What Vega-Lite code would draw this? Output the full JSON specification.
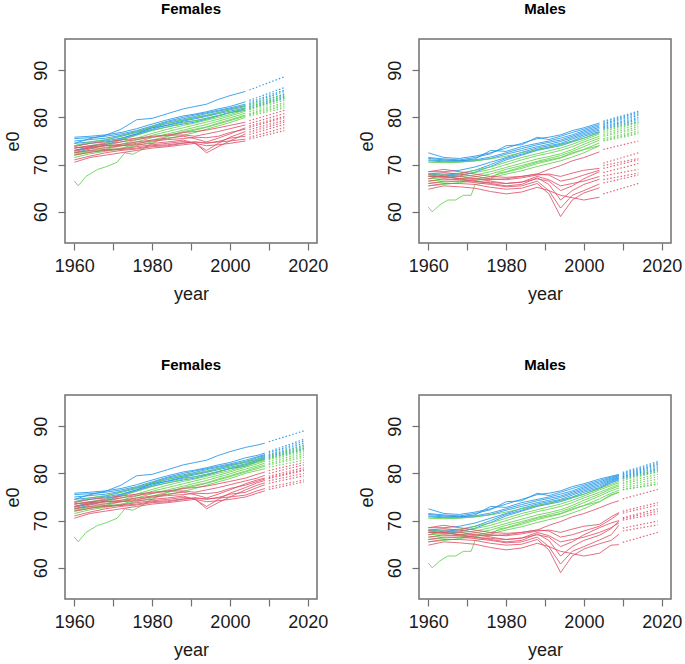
{
"$schema": "https://vega.github.io/schema/vega-lite/v6.json",
"padding": {"left": 3, "top": 1, "right": 0, "bottom": 0},
"bounds": "flush",
"spacing": {"row": 152, "column": 102},
"columns": 2,
"config": {
 "font": "Liberation Sans",
 "view": {"stroke": "#707070", "strokeWidth": 1.5},
 "axis": {"domain": false, "grid": false, "tickColor": "#707070", "tickSize": 7, "tickWidth": 1.2, "labelFontSize": 18, "labelColor": "#1a1a1a", "titleFontSize": 18, "titleFontWeight": "normal", "titleColor": "#1a1a1a", "labelFont": "Liberation Sans", "titleFont": "Liberation Sans"},
 "axisX": {"labelPadding": 7, "titleX": 126, "titleY": 56, "titleBaseline": "alphabetic", "labelFlush": false, "labelOverlap": false},
 "axisY": {"labelAngle": -90, "labelAlign": "center", "labelBaseline": "bottom", "labelPadding": 8, "titleAngle": -90, "titleX": -47, "titleY": 102, "titleBaseline": "alphabetic", "titleAlign": "center"},
 "title": {"fontSize": 15, "fontWeight": "bold", "font": "Liberation Sans", "color": "#000000", "offset": 22, "baseline": "bottom", "frame": "group", "anchor": "middle"}
},
"datasets": {
"hist": [
{"s":"F","id":"Fb1","g":"b","year":1960,"e0":74.5},{"s":"F","id":"Fb1","g":"b","year":1964,"e0":75.5},{"s":"F","id":"Fb1","g":"b","year":1968,"e0":76.2},{"s":"F","id":"Fb1","g":"b","year":1972,"e0":77.5},{"s":"F","id":"Fb1","g":"b","year":1976,"e0":79.5},{"s":"F","id":"Fb1","g":"b","year":1980,"e0":79.8},{"s":"F","id":"Fb1","g":"b","year":1984,"e0":80.8},{"s":"F","id":"Fb1","g":"b","year":1988,"e0":81.8},{"s":"F","id":"Fb1","g":"b","year":1991,"e0":82.3},{"s":"F","id":"Fb1","g":"b","year":1994,"e0":82.8},{"s":"F","id":"Fb1","g":"b","year":1997,"e0":83.8},{"s":"F","id":"Fb1","g":"b","year":2000,"e0":84.6},{"s":"F","id":"Fb1","g":"b","year":2004,"e0":85.5},{"s":"F","id":"Fb1","g":"b","year":2007,"e0":86.0},{"s":"F","id":"Fb1","g":"b","year":2009,"e0":86.4},
{"s":"F","id":"Fb2","g":"b","year":1960,"e0":75.8},{"s":"F","id":"Fb2","g":"b","year":1964,"e0":76.0},{"s":"F","id":"Fb2","g":"b","year":1968,"e0":76.3},{"s":"F","id":"Fb2","g":"b","year":1972,"e0":76.8},{"s":"F","id":"Fb2","g":"b","year":1976,"e0":77.6},{"s":"F","id":"Fb2","g":"b","year":1980,"e0":78.6},{"s":"F","id":"Fb2","g":"b","year":1984,"e0":79.5},{"s":"F","id":"Fb2","g":"b","year":1988,"e0":80.3},{"s":"F","id":"Fb2","g":"b","year":1991,"e0":80.7},{"s":"F","id":"Fb2","g":"b","year":1994,"e0":81.2},{"s":"F","id":"Fb2","g":"b","year":1997,"e0":81.8},{"s":"F","id":"Fb2","g":"b","year":2000,"e0":82.3},{"s":"F","id":"Fb2","g":"b","year":2004,"e0":83.3},{"s":"F","id":"Fb2","g":"b","year":2007,"e0":83.8},{"s":"F","id":"Fb2","g":"b","year":2009,"e0":84.3},
{"s":"F","id":"Fb3","g":"b","year":1960,"e0":75.5},{"s":"F","id":"Fb3","g":"b","year":1964,"e0":75.7},{"s":"F","id":"Fb3","g":"b","year":1968,"e0":76.0},{"s":"F","id":"Fb3","g":"b","year":1972,"e0":76.5},{"s":"F","id":"Fb3","g":"b","year":1976,"e0":77.2},{"s":"F","id":"Fb3","g":"b","year":1980,"e0":78.2},{"s":"F","id":"Fb3","g":"b","year":1984,"e0":79.2},{"s":"F","id":"Fb3","g":"b","year":1988,"e0":80.0},{"s":"F","id":"Fb3","g":"b","year":1991,"e0":80.5},{"s":"F","id":"Fb3","g":"b","year":1994,"e0":81.0},{"s":"F","id":"Fb3","g":"b","year":1997,"e0":81.5},{"s":"F","id":"Fb3","g":"b","year":2000,"e0":82.0},{"s":"F","id":"Fb3","g":"b","year":2004,"e0":82.8},{"s":"F","id":"Fb3","g":"b","year":2007,"e0":83.5},{"s":"F","id":"Fb3","g":"b","year":2009,"e0":84.0},
{"s":"F","id":"Fb4","g":"b","year":1960,"e0":75.0},{"s":"F","id":"Fb4","g":"b","year":1964,"e0":75.3},{"s":"F","id":"Fb4","g":"b","year":1968,"e0":75.6},{"s":"F","id":"Fb4","g":"b","year":1972,"e0":76.2},{"s":"F","id":"Fb4","g":"b","year":1976,"e0":77.0},{"s":"F","id":"Fb4","g":"b","year":1980,"e0":78.0},{"s":"F","id":"Fb4","g":"b","year":1984,"e0":79.0},{"s":"F","id":"Fb4","g":"b","year":1988,"e0":79.7},{"s":"F","id":"Fb4","g":"b","year":1991,"e0":80.2},{"s":"F","id":"Fb4","g":"b","year":1994,"e0":80.8},{"s":"F","id":"Fb4","g":"b","year":1997,"e0":81.3},{"s":"F","id":"Fb4","g":"b","year":2000,"e0":81.8},{"s":"F","id":"Fb4","g":"b","year":2004,"e0":82.5},{"s":"F","id":"Fb4","g":"b","year":2007,"e0":83.3},{"s":"F","id":"Fb4","g":"b","year":2009,"e0":83.8},
{"s":"F","id":"Fb5","g":"b","year":1960,"e0":74.5},{"s":"F","id":"Fb5","g":"b","year":1964,"e0":74.8},{"s":"F","id":"Fb5","g":"b","year":1968,"e0":75.2},{"s":"F","id":"Fb5","g":"b","year":1972,"e0":76.0},{"s":"F","id":"Fb5","g":"b","year":1976,"e0":76.8},{"s":"F","id":"Fb5","g":"b","year":1980,"e0":77.8},{"s":"F","id":"Fb5","g":"b","year":1984,"e0":78.7},{"s":"F","id":"Fb5","g":"b","year":1988,"e0":79.4},{"s":"F","id":"Fb5","g":"b","year":1991,"e0":79.9},{"s":"F","id":"Fb5","g":"b","year":1994,"e0":80.4},{"s":"F","id":"Fb5","g":"b","year":1997,"e0":81.0},{"s":"F","id":"Fb5","g":"b","year":2000,"e0":81.6},{"s":"F","id":"Fb5","g":"b","year":2004,"e0":82.3},{"s":"F","id":"Fb5","g":"b","year":2007,"e0":83.0},{"s":"F","id":"Fb5","g":"b","year":2009,"e0":83.6},
{"s":"F","id":"Fb6","g":"b","year":1960,"e0":74.0},{"s":"F","id":"Fb6","g":"b","year":1964,"e0":74.5},{"s":"F","id":"Fb6","g":"b","year":1968,"e0":75.0},{"s":"F","id":"Fb6","g":"b","year":1972,"e0":75.6},{"s":"F","id":"Fb6","g":"b","year":1976,"e0":76.5},{"s":"F","id":"Fb6","g":"b","year":1980,"e0":77.5},{"s":"F","id":"Fb6","g":"b","year":1984,"e0":78.4},{"s":"F","id":"Fb6","g":"b","year":1988,"e0":79.2},{"s":"F","id":"Fb6","g":"b","year":1991,"e0":79.7},{"s":"F","id":"Fb6","g":"b","year":1994,"e0":80.2},{"s":"F","id":"Fb6","g":"b","year":1997,"e0":80.8},{"s":"F","id":"Fb6","g":"b","year":2000,"e0":81.3},{"s":"F","id":"Fb6","g":"b","year":2004,"e0":82.0},{"s":"F","id":"Fb6","g":"b","year":2007,"e0":82.8},{"s":"F","id":"Fb6","g":"b","year":2009,"e0":83.4},
{"s":"F","id":"Fb7","g":"b","year":1960,"e0":73.0},{"s":"F","id":"Fb7","g":"b","year":1964,"e0":73.8},{"s":"F","id":"Fb7","g":"b","year":1968,"e0":74.5},{"s":"F","id":"Fb7","g":"b","year":1972,"e0":75.5},{"s":"F","id":"Fb7","g":"b","year":1976,"e0":76.5},{"s":"F","id":"Fb7","g":"b","year":1980,"e0":77.8},{"s":"F","id":"Fb7","g":"b","year":1984,"e0":78.3},{"s":"F","id":"Fb7","g":"b","year":1988,"e0":79.0},{"s":"F","id":"Fb7","g":"b","year":1991,"e0":79.3},{"s":"F","id":"Fb7","g":"b","year":1994,"e0":79.8},{"s":"F","id":"Fb7","g":"b","year":1997,"e0":80.4},{"s":"F","id":"Fb7","g":"b","year":2000,"e0":81.0},{"s":"F","id":"Fb7","g":"b","year":2004,"e0":81.8},{"s":"F","id":"Fb7","g":"b","year":2007,"e0":82.6},{"s":"F","id":"Fb7","g":"b","year":2009,"e0":83.2},
{"s":"F","id":"Fb8","g":"b","year":1960,"e0":72.5},{"s":"F","id":"Fb8","g":"b","year":1964,"e0":73.3},{"s":"F","id":"Fb8","g":"b","year":1968,"e0":74.2},{"s":"F","id":"Fb8","g":"b","year":1972,"e0":75.2},{"s":"F","id":"Fb8","g":"b","year":1976,"e0":76.3},{"s":"F","id":"Fb8","g":"b","year":1980,"e0":77.3},{"s":"F","id":"Fb8","g":"b","year":1984,"e0":78.0},{"s":"F","id":"Fb8","g":"b","year":1988,"e0":78.6},{"s":"F","id":"Fb8","g":"b","year":1991,"e0":79.0},{"s":"F","id":"Fb8","g":"b","year":1994,"e0":79.6},{"s":"F","id":"Fb8","g":"b","year":1997,"e0":80.3},{"s":"F","id":"Fb8","g":"b","year":2000,"e0":81.0},{"s":"F","id":"Fb8","g":"b","year":2004,"e0":81.5},{"s":"F","id":"Fb8","g":"b","year":2007,"e0":82.5},{"s":"F","id":"Fb8","g":"b","year":2009,"e0":83.0},
{"s":"F","id":"Fg1","g":"g","year":1960,"e0":66.5},{"s":"F","id":"Fg1","g":"g","year":1961,"e0":65.5},{"s":"F","id":"Fg1","g":"g","year":1963,"e0":67.5},{"s":"F","id":"Fg1","g":"g","year":1966,"e0":69.0},{"s":"F","id":"Fg1","g":"g","year":1968,"e0":69.5},{"s":"F","id":"Fg1","g":"g","year":1971,"e0":70.5},{"s":"F","id":"Fg1","g":"g","year":1973,"e0":72.5},{"s":"F","id":"Fg1","g":"g","year":1975,"e0":72.2},{"s":"F","id":"Fg1","g":"g","year":1977,"e0":73.0},{"s":"F","id":"Fg1","g":"g","year":1980,"e0":74.5},{"s":"F","id":"Fg1","g":"g","year":1984,"e0":76.0},{"s":"F","id":"Fg1","g":"g","year":1988,"e0":77.0},{"s":"F","id":"Fg1","g":"g","year":1991,"e0":77.5},{"s":"F","id":"Fg1","g":"g","year":1994,"e0":78.0},{"s":"F","id":"Fg1","g":"g","year":1997,"e0":78.8},{"s":"F","id":"Fg1","g":"g","year":2000,"e0":79.5},{"s":"F","id":"Fg1","g":"g","year":2004,"e0":80.5},{"s":"F","id":"Fg1","g":"g","year":2007,"e0":81.3},{"s":"F","id":"Fg1","g":"g","year":2009,"e0":81.8},
{"s":"F","id":"Fg2","g":"g","year":1960,"e0":74.0},{"s":"F","id":"Fg2","g":"g","year":1964,"e0":74.8},{"s":"F","id":"Fg2","g":"g","year":1968,"e0":75.3},{"s":"F","id":"Fg2","g":"g","year":1972,"e0":76.0},{"s":"F","id":"Fg2","g":"g","year":1976,"e0":77.0},{"s":"F","id":"Fg2","g":"g","year":1980,"e0":78.0},{"s":"F","id":"Fg2","g":"g","year":1984,"e0":78.8},{"s":"F","id":"Fg2","g":"g","year":1988,"e0":79.5},{"s":"F","id":"Fg2","g":"g","year":1991,"e0":80.0},{"s":"F","id":"Fg2","g":"g","year":1994,"e0":80.5},{"s":"F","id":"Fg2","g":"g","year":1997,"e0":81.0},{"s":"F","id":"Fg2","g":"g","year":2000,"e0":81.6},{"s":"F","id":"Fg2","g":"g","year":2004,"e0":82.5},{"s":"F","id":"Fg2","g":"g","year":2007,"e0":83.0},{"s":"F","id":"Fg2","g":"g","year":2009,"e0":83.5},
{"s":"F","id":"Fg3","g":"g","year":1960,"e0":73.5},{"s":"F","id":"Fg3","g":"g","year":1964,"e0":74.0},{"s":"F","id":"Fg3","g":"g","year":1968,"e0":74.6},{"s":"F","id":"Fg3","g":"g","year":1972,"e0":75.3},{"s":"F","id":"Fg3","g":"g","year":1976,"e0":76.2},{"s":"F","id":"Fg3","g":"g","year":1980,"e0":77.2},{"s":"F","id":"Fg3","g":"g","year":1984,"e0":78.0},{"s":"F","id":"Fg3","g":"g","year":1988,"e0":78.8},{"s":"F","id":"Fg3","g":"g","year":1991,"e0":79.3},{"s":"F","id":"Fg3","g":"g","year":1994,"e0":79.8},{"s":"F","id":"Fg3","g":"g","year":1997,"e0":80.4},{"s":"F","id":"Fg3","g":"g","year":2000,"e0":81.0},{"s":"F","id":"Fg3","g":"g","year":2004,"e0":82.0},{"s":"F","id":"Fg3","g":"g","year":2007,"e0":82.6},{"s":"F","id":"Fg3","g":"g","year":2009,"e0":83.0},
{"s":"F","id":"Fg4","g":"g","year":1960,"e0":73.0},{"s":"F","id":"Fg4","g":"g","year":1964,"e0":73.5},{"s":"F","id":"Fg4","g":"g","year":1968,"e0":74.0},{"s":"F","id":"Fg4","g":"g","year":1972,"e0":74.8},{"s":"F","id":"Fg4","g":"g","year":1976,"e0":75.6},{"s":"F","id":"Fg4","g":"g","year":1980,"e0":76.6},{"s":"F","id":"Fg4","g":"g","year":1984,"e0":77.5},{"s":"F","id":"Fg4","g":"g","year":1988,"e0":78.3},{"s":"F","id":"Fg4","g":"g","year":1991,"e0":78.8},{"s":"F","id":"Fg4","g":"g","year":1994,"e0":79.4},{"s":"F","id":"Fg4","g":"g","year":1997,"e0":80.0},{"s":"F","id":"Fg4","g":"g","year":2000,"e0":80.6},{"s":"F","id":"Fg4","g":"g","year":2004,"e0":81.6},{"s":"F","id":"Fg4","g":"g","year":2007,"e0":82.3},{"s":"F","id":"Fg4","g":"g","year":2009,"e0":82.8},
{"s":"F","id":"Fg5","g":"g","year":1960,"e0":72.5},{"s":"F","id":"Fg5","g":"g","year":1964,"e0":73.0},{"s":"F","id":"Fg5","g":"g","year":1968,"e0":73.6},{"s":"F","id":"Fg5","g":"g","year":1972,"e0":74.3},{"s":"F","id":"Fg5","g":"g","year":1976,"e0":75.2},{"s":"F","id":"Fg5","g":"g","year":1980,"e0":76.2},{"s":"F","id":"Fg5","g":"g","year":1984,"e0":77.0},{"s":"F","id":"Fg5","g":"g","year":1988,"e0":77.8},{"s":"F","id":"Fg5","g":"g","year":1991,"e0":78.4},{"s":"F","id":"Fg5","g":"g","year":1994,"e0":79.0},{"s":"F","id":"Fg5","g":"g","year":1997,"e0":79.6},{"s":"F","id":"Fg5","g":"g","year":2000,"e0":80.3},{"s":"F","id":"Fg5","g":"g","year":2004,"e0":81.3},{"s":"F","id":"Fg5","g":"g","year":2007,"e0":82.0},{"s":"F","id":"Fg5","g":"g","year":2009,"e0":82.6},
{"s":"F","id":"Fg6","g":"g","year":1960,"e0":72.0},{"s":"F","id":"Fg6","g":"g","year":1964,"e0":72.6},{"s":"F","id":"Fg6","g":"g","year":1968,"e0":73.2},{"s":"F","id":"Fg6","g":"g","year":1972,"e0":74.0},{"s":"F","id":"Fg6","g":"g","year":1976,"e0":74.8},{"s":"F","id":"Fg6","g":"g","year":1980,"e0":75.7},{"s":"F","id":"Fg6","g":"g","year":1984,"e0":76.5},{"s":"F","id":"Fg6","g":"g","year":1988,"e0":77.3},{"s":"F","id":"Fg6","g":"g","year":1991,"e0":77.9},{"s":"F","id":"Fg6","g":"g","year":1994,"e0":78.5},{"s":"F","id":"Fg6","g":"g","year":1997,"e0":79.2},{"s":"F","id":"Fg6","g":"g","year":2000,"e0":79.9},{"s":"F","id":"Fg6","g":"g","year":2004,"e0":80.9},{"s":"F","id":"Fg6","g":"g","year":2007,"e0":81.6},{"s":"F","id":"Fg6","g":"g","year":2009,"e0":82.2},
{"s":"F","id":"Fg7","g":"g","year":1960,"e0":72.2},{"s":"F","id":"Fg7","g":"g","year":1964,"e0":72.8},{"s":"F","id":"Fg7","g":"g","year":1968,"e0":73.0},{"s":"F","id":"Fg7","g":"g","year":1972,"e0":73.5},{"s":"F","id":"Fg7","g":"g","year":1976,"e0":74.3},{"s":"F","id":"Fg7","g":"g","year":1980,"e0":75.2},{"s":"F","id":"Fg7","g":"g","year":1984,"e0":76.0},{"s":"F","id":"Fg7","g":"g","year":1988,"e0":76.8},{"s":"F","id":"Fg7","g":"g","year":1991,"e0":77.3},{"s":"F","id":"Fg7","g":"g","year":1994,"e0":77.9},{"s":"F","id":"Fg7","g":"g","year":1997,"e0":78.6},{"s":"F","id":"Fg7","g":"g","year":2000,"e0":79.3},{"s":"F","id":"Fg7","g":"g","year":2004,"e0":80.3},{"s":"F","id":"Fg7","g":"g","year":2007,"e0":81.0},{"s":"F","id":"Fg7","g":"g","year":2009,"e0":81.5},
{"s":"F","id":"Fg8","g":"g","year":1960,"e0":71.5},{"s":"F","id":"Fg8","g":"g","year":1964,"e0":72.3},{"s":"F","id":"Fg8","g":"g","year":1968,"e0":72.8},{"s":"F","id":"Fg8","g":"g","year":1972,"e0":73.4},{"s":"F","id":"Fg8","g":"g","year":1976,"e0":74.0},{"s":"F","id":"Fg8","g":"g","year":1980,"e0":74.8},{"s":"F","id":"Fg8","g":"g","year":1984,"e0":75.5},{"s":"F","id":"Fg8","g":"g","year":1988,"e0":76.2},{"s":"F","id":"Fg8","g":"g","year":1991,"e0":76.8},{"s":"F","id":"Fg8","g":"g","year":1994,"e0":77.5},{"s":"F","id":"Fg8","g":"g","year":1997,"e0":78.2},{"s":"F","id":"Fg8","g":"g","year":2000,"e0":78.9},{"s":"F","id":"Fg8","g":"g","year":2004,"e0":80.0},{"s":"F","id":"Fg8","g":"g","year":2007,"e0":80.6},{"s":"F","id":"Fg8","g":"g","year":2009,"e0":81.0},
{"s":"F","id":"Fr1","g":"r","year":1960,"e0":73.8},{"s":"F","id":"Fr1","g":"r","year":1964,"e0":74.5},{"s":"F","id":"Fr1","g":"r","year":1968,"e0":74.8},{"s":"F","id":"Fr1","g":"r","year":1972,"e0":75.2},{"s":"F","id":"Fr1","g":"r","year":1976,"e0":75.6},{"s":"F","id":"Fr1","g":"r","year":1980,"e0":76.0},{"s":"F","id":"Fr1","g":"r","year":1984,"e0":76.3},{"s":"F","id":"Fr1","g":"r","year":1988,"e0":76.8},{"s":"F","id":"Fr1","g":"r","year":1991,"e0":77.0},{"s":"F","id":"Fr1","g":"r","year":1994,"e0":77.3},{"s":"F","id":"Fr1","g":"r","year":1997,"e0":77.8},{"s":"F","id":"Fr1","g":"r","year":2000,"e0":78.3},{"s":"F","id":"Fr1","g":"r","year":2004,"e0":79.0},{"s":"F","id":"Fr1","g":"r","year":2007,"e0":79.8},{"s":"F","id":"Fr1","g":"r","year":2009,"e0":80.3},
{"s":"F","id":"Fr2","g":"r","year":1960,"e0":73.5},{"s":"F","id":"Fr2","g":"r","year":1964,"e0":74.0},{"s":"F","id":"Fr2","g":"r","year":1968,"e0":74.3},{"s":"F","id":"Fr2","g":"r","year":1972,"e0":74.8},{"s":"F","id":"Fr2","g":"r","year":1976,"e0":75.3},{"s":"F","id":"Fr2","g":"r","year":1980,"e0":75.8},{"s":"F","id":"Fr2","g":"r","year":1984,"e0":76.2},{"s":"F","id":"Fr2","g":"r","year":1988,"e0":76.3},{"s":"F","id":"Fr2","g":"r","year":1991,"e0":76.0},{"s":"F","id":"Fr2","g":"r","year":1994,"e0":76.5},{"s":"F","id":"Fr2","g":"r","year":1997,"e0":77.0},{"s":"F","id":"Fr2","g":"r","year":2000,"e0":77.6},{"s":"F","id":"Fr2","g":"r","year":2004,"e0":78.4},{"s":"F","id":"Fr2","g":"r","year":2007,"e0":79.0},{"s":"F","id":"Fr2","g":"r","year":2009,"e0":79.6},
{"s":"F","id":"Fr3","g":"r","year":1960,"e0":73.0},{"s":"F","id":"Fr3","g":"r","year":1964,"e0":73.6},{"s":"F","id":"Fr3","g":"r","year":1968,"e0":74.0},{"s":"F","id":"Fr3","g":"r","year":1972,"e0":74.3},{"s":"F","id":"Fr3","g":"r","year":1976,"e0":74.8},{"s":"F","id":"Fr3","g":"r","year":1980,"e0":75.2},{"s":"F","id":"Fr3","g":"r","year":1984,"e0":75.6},{"s":"F","id":"Fr3","g":"r","year":1988,"e0":76.0},{"s":"F","id":"Fr3","g":"r","year":1991,"e0":75.5},{"s":"F","id":"Fr3","g":"r","year":1994,"e0":74.8},{"s":"F","id":"Fr3","g":"r","year":1997,"e0":75.6},{"s":"F","id":"Fr3","g":"r","year":2000,"e0":76.5},{"s":"F","id":"Fr3","g":"r","year":2004,"e0":77.8},{"s":"F","id":"Fr3","g":"r","year":2007,"e0":78.6},{"s":"F","id":"Fr3","g":"r","year":2009,"e0":79.0},
{"s":"F","id":"Fr4","g":"r","year":1960,"e0":73.5},{"s":"F","id":"Fr4","g":"r","year":1964,"e0":73.8},{"s":"F","id":"Fr4","g":"r","year":1968,"e0":74.0},{"s":"F","id":"Fr4","g":"r","year":1972,"e0":74.0},{"s":"F","id":"Fr4","g":"r","year":1976,"e0":74.2},{"s":"F","id":"Fr4","g":"r","year":1980,"e0":74.5},{"s":"F","id":"Fr4","g":"r","year":1984,"e0":74.8},{"s":"F","id":"Fr4","g":"r","year":1988,"e0":75.2},{"s":"F","id":"Fr4","g":"r","year":1991,"e0":74.5},{"s":"F","id":"Fr4","g":"r","year":1994,"e0":73.0},{"s":"F","id":"Fr4","g":"r","year":1997,"e0":74.5},{"s":"F","id":"Fr4","g":"r","year":2000,"e0":75.8},{"s":"F","id":"Fr4","g":"r","year":2004,"e0":77.0},{"s":"F","id":"Fr4","g":"r","year":2007,"e0":78.0},{"s":"F","id":"Fr4","g":"r","year":2009,"e0":78.5},
{"s":"F","id":"Fr5","g":"r","year":1960,"e0":72.5},{"s":"F","id":"Fr5","g":"r","year":1964,"e0":73.0},{"s":"F","id":"Fr5","g":"r","year":1968,"e0":73.2},{"s":"F","id":"Fr5","g":"r","year":1972,"e0":73.3},{"s":"F","id":"Fr5","g":"r","year":1976,"e0":73.8},{"s":"F","id":"Fr5","g":"r","year":1980,"e0":74.2},{"s":"F","id":"Fr5","g":"r","year":1984,"e0":74.5},{"s":"F","id":"Fr5","g":"r","year":1988,"e0":74.9},{"s":"F","id":"Fr5","g":"r","year":1991,"e0":74.6},{"s":"F","id":"Fr5","g":"r","year":1994,"e0":72.5},{"s":"F","id":"Fr5","g":"r","year":1997,"e0":73.8},{"s":"F","id":"Fr5","g":"r","year":2000,"e0":75.0},{"s":"F","id":"Fr5","g":"r","year":2004,"e0":76.5},{"s":"F","id":"Fr5","g":"r","year":2007,"e0":77.5},{"s":"F","id":"Fr5","g":"r","year":2009,"e0":78.0},
{"s":"F","id":"Fr6","g":"r","year":1960,"e0":72.0},{"s":"F","id":"Fr6","g":"r","year":1964,"e0":72.6},{"s":"F","id":"Fr6","g":"r","year":1968,"e0":73.0},{"s":"F","id":"Fr6","g":"r","year":1972,"e0":73.2},{"s":"F","id":"Fr6","g":"r","year":1976,"e0":73.5},{"s":"F","id":"Fr6","g":"r","year":1980,"e0":74.0},{"s":"F","id":"Fr6","g":"r","year":1984,"e0":74.2},{"s":"F","id":"Fr6","g":"r","year":1988,"e0":74.6},{"s":"F","id":"Fr6","g":"r","year":1991,"e0":74.8},{"s":"F","id":"Fr6","g":"r","year":1994,"e0":74.5},{"s":"F","id":"Fr6","g":"r","year":1997,"e0":74.9},{"s":"F","id":"Fr6","g":"r","year":2000,"e0":75.6},{"s":"F","id":"Fr6","g":"r","year":2004,"e0":76.0},{"s":"F","id":"Fr6","g":"r","year":2007,"e0":77.0},{"s":"F","id":"Fr6","g":"r","year":2009,"e0":77.6},
{"s":"F","id":"Fr7","g":"r","year":1960,"e0":71.0},{"s":"F","id":"Fr7","g":"r","year":1964,"e0":71.8},{"s":"F","id":"Fr7","g":"r","year":1968,"e0":72.5},{"s":"F","id":"Fr7","g":"r","year":1972,"e0":73.0},{"s":"F","id":"Fr7","g":"r","year":1976,"e0":73.3},{"s":"F","id":"Fr7","g":"r","year":1980,"e0":73.8},{"s":"F","id":"Fr7","g":"r","year":1984,"e0":74.0},{"s":"F","id":"Fr7","g":"r","year":1988,"e0":74.5},{"s":"F","id":"Fr7","g":"r","year":1991,"e0":74.8},{"s":"F","id":"Fr7","g":"r","year":1994,"e0":74.6},{"s":"F","id":"Fr7","g":"r","year":1997,"e0":74.8},{"s":"F","id":"Fr7","g":"r","year":2000,"e0":75.0},{"s":"F","id":"Fr7","g":"r","year":2004,"e0":75.4},{"s":"F","id":"Fr7","g":"r","year":2007,"e0":76.3},{"s":"F","id":"Fr7","g":"r","year":2009,"e0":76.8},
{"s":"F","id":"Fr8","g":"r","year":1960,"e0":70.5},{"s":"F","id":"Fr8","g":"r","year":1964,"e0":71.5},{"s":"F","id":"Fr8","g":"r","year":1968,"e0":72.0},{"s":"F","id":"Fr8","g":"r","year":1972,"e0":72.5},{"s":"F","id":"Fr8","g":"r","year":1976,"e0":73.0},{"s":"F","id":"Fr8","g":"r","year":1980,"e0":73.5},{"s":"F","id":"Fr8","g":"r","year":1984,"e0":73.8},{"s":"F","id":"Fr8","g":"r","year":1988,"e0":74.2},{"s":"F","id":"Fr8","g":"r","year":1991,"e0":74.5},{"s":"F","id":"Fr8","g":"r","year":1994,"e0":74.0},{"s":"F","id":"Fr8","g":"r","year":1997,"e0":74.2},{"s":"F","id":"Fr8","g":"r","year":2000,"e0":74.5},{"s":"F","id":"Fr8","g":"r","year":2004,"e0":75.0},{"s":"F","id":"Fr8","g":"r","year":2007,"e0":75.8},{"s":"F","id":"Fr8","g":"r","year":2009,"e0":76.3},
{"s":"F","id":"Fr9","g":"r","year":1960,"e0":72.8},{"s":"F","id":"Fr9","g":"r","year":1964,"e0":73.5},{"s":"F","id":"Fr9","g":"r","year":1968,"e0":73.5},{"s":"F","id":"Fr9","g":"r","year":1972,"e0":74.0},{"s":"F","id":"Fr9","g":"r","year":1976,"e0":74.5},{"s":"F","id":"Fr9","g":"r","year":1980,"e0":75.0},{"s":"F","id":"Fr9","g":"r","year":1984,"e0":75.3},{"s":"F","id":"Fr9","g":"r","year":1988,"e0":75.5},{"s":"F","id":"Fr9","g":"r","year":1991,"e0":75.8},{"s":"F","id":"Fr9","g":"r","year":1994,"e0":75.7},{"s":"F","id":"Fr9","g":"r","year":1997,"e0":76.0},{"s":"F","id":"Fr9","g":"r","year":2000,"e0":76.8},{"s":"F","id":"Fr9","g":"r","year":2004,"e0":77.5},{"s":"F","id":"Fr9","g":"r","year":2007,"e0":78.3},{"s":"F","id":"Fr9","g":"r","year":2009,"e0":78.8},
{"s":"M","id":"Mb1","g":"b","year":1960,"e0":72.5},{"s":"M","id":"Mb1","g":"b","year":1964,"e0":71.5},{"s":"M","id":"Mb1","g":"b","year":1968,"e0":71.3},{"s":"M","id":"Mb1","g":"b","year":1972,"e0":71.8},{"s":"M","id":"Mb1","g":"b","year":1976,"e0":72.5},{"s":"M","id":"Mb1","g":"b","year":1980,"e0":73.5},{"s":"M","id":"Mb1","g":"b","year":1984,"e0":74.5},{"s":"M","id":"Mb1","g":"b","year":1988,"e0":75.5},{"s":"M","id":"Mb1","g":"b","year":1991,"e0":75.8},{"s":"M","id":"Mb1","g":"b","year":1994,"e0":76.3},{"s":"M","id":"Mb1","g":"b","year":1997,"e0":77.2},{"s":"M","id":"Mb1","g":"b","year":2000,"e0":77.8},{"s":"M","id":"Mb1","g":"b","year":2004,"e0":78.8},{"s":"M","id":"Mb1","g":"b","year":2007,"e0":79.4},{"s":"M","id":"Mb1","g":"b","year":2009,"e0":79.8},
{"s":"M","id":"Mb2","g":"b","year":1960,"e0":71.5},{"s":"M","id":"Mb2","g":"b","year":1964,"e0":71.2},{"s":"M","id":"Mb2","g":"b","year":1968,"e0":71.0},{"s":"M","id":"Mb2","g":"b","year":1972,"e0":71.5},{"s":"M","id":"Mb2","g":"b","year":1976,"e0":72.3},{"s":"M","id":"Mb2","g":"b","year":1980,"e0":74.0},{"s":"M","id":"Mb2","g":"b","year":1984,"e0":74.2},{"s":"M","id":"Mb2","g":"b","year":1988,"e0":75.8},{"s":"M","id":"Mb2","g":"b","year":1991,"e0":75.3},{"s":"M","id":"Mb2","g":"b","year":1994,"e0":76.0},{"s":"M","id":"Mb2","g":"b","year":1997,"e0":76.8},{"s":"M","id":"Mb2","g":"b","year":2000,"e0":77.5},{"s":"M","id":"Mb2","g":"b","year":2004,"e0":78.5},{"s":"M","id":"Mb2","g":"b","year":2007,"e0":79.2},{"s":"M","id":"Mb2","g":"b","year":2009,"e0":79.6},
{"s":"M","id":"Mb3","g":"b","year":1960,"e0":71.3},{"s":"M","id":"Mb3","g":"b","year":1964,"e0":71.0},{"s":"M","id":"Mb3","g":"b","year":1968,"e0":70.8},{"s":"M","id":"Mb3","g":"b","year":1972,"e0":71.2},{"s":"M","id":"Mb3","g":"b","year":1976,"e0":73.0},{"s":"M","id":"Mb3","g":"b","year":1980,"e0":72.8},{"s":"M","id":"Mb3","g":"b","year":1984,"e0":73.8},{"s":"M","id":"Mb3","g":"b","year":1988,"e0":74.5},{"s":"M","id":"Mb3","g":"b","year":1991,"e0":75.0},{"s":"M","id":"Mb3","g":"b","year":1994,"e0":75.6},{"s":"M","id":"Mb3","g":"b","year":1997,"e0":76.3},{"s":"M","id":"Mb3","g":"b","year":2000,"e0":77.2},{"s":"M","id":"Mb3","g":"b","year":2004,"e0":78.2},{"s":"M","id":"Mb3","g":"b","year":2007,"e0":79.0},{"s":"M","id":"Mb3","g":"b","year":2009,"e0":79.5},
{"s":"M","id":"Mb4","g":"b","year":1960,"e0":71.0},{"s":"M","id":"Mb4","g":"b","year":1964,"e0":70.8},{"s":"M","id":"Mb4","g":"b","year":1968,"e0":70.8},{"s":"M","id":"Mb4","g":"b","year":1972,"e0":71.0},{"s":"M","id":"Mb4","g":"b","year":1976,"e0":71.6},{"s":"M","id":"Mb4","g":"b","year":1980,"e0":72.5},{"s":"M","id":"Mb4","g":"b","year":1984,"e0":73.4},{"s":"M","id":"Mb4","g":"b","year":1988,"e0":74.2},{"s":"M","id":"Mb4","g":"b","year":1991,"e0":74.7},{"s":"M","id":"Mb4","g":"b","year":1994,"e0":75.2},{"s":"M","id":"Mb4","g":"b","year":1997,"e0":76.0},{"s":"M","id":"Mb4","g":"b","year":2000,"e0":76.9},{"s":"M","id":"Mb4","g":"b","year":2004,"e0":77.9},{"s":"M","id":"Mb4","g":"b","year":2007,"e0":78.8},{"s":"M","id":"Mb4","g":"b","year":2009,"e0":79.3},
{"s":"M","id":"Mb5","g":"b","year":1960,"e0":70.8},{"s":"M","id":"Mb5","g":"b","year":1964,"e0":70.6},{"s":"M","id":"Mb5","g":"b","year":1968,"e0":70.6},{"s":"M","id":"Mb5","g":"b","year":1972,"e0":70.8},{"s":"M","id":"Mb5","g":"b","year":1976,"e0":71.3},{"s":"M","id":"Mb5","g":"b","year":1980,"e0":72.2},{"s":"M","id":"Mb5","g":"b","year":1984,"e0":73.0},{"s":"M","id":"Mb5","g":"b","year":1988,"e0":73.8},{"s":"M","id":"Mb5","g":"b","year":1991,"e0":74.3},{"s":"M","id":"Mb5","g":"b","year":1994,"e0":74.9},{"s":"M","id":"Mb5","g":"b","year":1997,"e0":75.7},{"s":"M","id":"Mb5","g":"b","year":2000,"e0":76.6},{"s":"M","id":"Mb5","g":"b","year":2004,"e0":77.6},{"s":"M","id":"Mb5","g":"b","year":2007,"e0":78.6},{"s":"M","id":"Mb5","g":"b","year":2009,"e0":79.1},
{"s":"M","id":"Mb6","g":"b","year":1960,"e0":68.5},{"s":"M","id":"Mb6","g":"b","year":1964,"e0":68.5},{"s":"M","id":"Mb6","g":"b","year":1968,"e0":68.8},{"s":"M","id":"Mb6","g":"b","year":1972,"e0":69.5},{"s":"M","id":"Mb6","g":"b","year":1976,"e0":70.5},{"s":"M","id":"Mb6","g":"b","year":1980,"e0":71.5},{"s":"M","id":"Mb6","g":"b","year":1984,"e0":72.6},{"s":"M","id":"Mb6","g":"b","year":1988,"e0":73.5},{"s":"M","id":"Mb6","g":"b","year":1991,"e0":74.0},{"s":"M","id":"Mb6","g":"b","year":1994,"e0":74.5},{"s":"M","id":"Mb6","g":"b","year":1997,"e0":75.4},{"s":"M","id":"Mb6","g":"b","year":2000,"e0":76.3},{"s":"M","id":"Mb6","g":"b","year":2004,"e0":77.3},{"s":"M","id":"Mb6","g":"b","year":2007,"e0":78.4},{"s":"M","id":"Mb6","g":"b","year":2009,"e0":79.0},
{"s":"M","id":"Mb7","g":"b","year":1960,"e0":68.0},{"s":"M","id":"Mb7","g":"b","year":1964,"e0":67.8},{"s":"M","id":"Mb7","g":"b","year":1968,"e0":68.0},{"s":"M","id":"Mb7","g":"b","year":1972,"e0":68.8},{"s":"M","id":"Mb7","g":"b","year":1976,"e0":70.0},{"s":"M","id":"Mb7","g":"b","year":1980,"e0":71.3},{"s":"M","id":"Mb7","g":"b","year":1984,"e0":72.2},{"s":"M","id":"Mb7","g":"b","year":1988,"e0":73.2},{"s":"M","id":"Mb7","g":"b","year":1991,"e0":73.7},{"s":"M","id":"Mb7","g":"b","year":1994,"e0":74.3},{"s":"M","id":"Mb7","g":"b","year":1997,"e0":75.0},{"s":"M","id":"Mb7","g":"b","year":2000,"e0":76.0},{"s":"M","id":"Mb7","g":"b","year":2004,"e0":77.0},{"s":"M","id":"Mb7","g":"b","year":2007,"e0":78.2},{"s":"M","id":"Mb7","g":"b","year":2009,"e0":78.8},
{"s":"M","id":"Mb8","g":"b","year":1960,"e0":67.5},{"s":"M","id":"Mb8","g":"b","year":1964,"e0":67.3},{"s":"M","id":"Mb8","g":"b","year":1968,"e0":67.6},{"s":"M","id":"Mb8","g":"b","year":1972,"e0":68.4},{"s":"M","id":"Mb8","g":"b","year":1976,"e0":69.6},{"s":"M","id":"Mb8","g":"b","year":1980,"e0":71.0},{"s":"M","id":"Mb8","g":"b","year":1984,"e0":72.0},{"s":"M","id":"Mb8","g":"b","year":1988,"e0":73.0},{"s":"M","id":"Mb8","g":"b","year":1991,"e0":73.5},{"s":"M","id":"Mb8","g":"b","year":1994,"e0":74.0},{"s":"M","id":"Mb8","g":"b","year":1997,"e0":74.8},{"s":"M","id":"Mb8","g":"b","year":2000,"e0":75.6},{"s":"M","id":"Mb8","g":"b","year":2004,"e0":76.8},{"s":"M","id":"Mb8","g":"b","year":2007,"e0":78.0},{"s":"M","id":"Mb8","g":"b","year":2009,"e0":78.6},
{"s":"M","id":"Mg1","g":"g","year":1960,"e0":61.0},{"s":"M","id":"Mg1","g":"g","year":1961,"e0":60.0},{"s":"M","id":"Mg1","g":"g","year":1963,"e0":61.5},{"s":"M","id":"Mg1","g":"g","year":1965,"e0":62.5},{"s":"M","id":"Mg1","g":"g","year":1967,"e0":62.5},{"s":"M","id":"Mg1","g":"g","year":1969,"e0":63.5},{"s":"M","id":"Mg1","g":"g","year":1971,"e0":63.5},{"s":"M","id":"Mg1","g":"g","year":1972,"e0":65.8},{"s":"M","id":"Mg1","g":"g","year":1975,"e0":66.2},{"s":"M","id":"Mg1","g":"g","year":1978,"e0":68.2},{"s":"M","id":"Mg1","g":"g","year":1980,"e0":68.5},{"s":"M","id":"Mg1","g":"g","year":1984,"e0":69.5},{"s":"M","id":"Mg1","g":"g","year":1988,"e0":70.5},{"s":"M","id":"Mg1","g":"g","year":1991,"e0":71.0},{"s":"M","id":"Mg1","g":"g","year":1994,"e0":71.5},{"s":"M","id":"Mg1","g":"g","year":1997,"e0":72.5},{"s":"M","id":"Mg1","g":"g","year":2000,"e0":73.2},{"s":"M","id":"Mg1","g":"g","year":2004,"e0":74.0},{"s":"M","id":"Mg1","g":"g","year":2007,"e0":75.5},{"s":"M","id":"Mg1","g":"g","year":2009,"e0":76.0},
{"s":"M","id":"Mg2","g":"g","year":1960,"e0":70.5},{"s":"M","id":"Mg2","g":"g","year":1964,"e0":70.4},{"s":"M","id":"Mg2","g":"g","year":1968,"e0":70.5},{"s":"M","id":"Mg2","g":"g","year":1972,"e0":70.8},{"s":"M","id":"Mg2","g":"g","year":1976,"e0":71.2},{"s":"M","id":"Mg2","g":"g","year":1980,"e0":71.8},{"s":"M","id":"Mg2","g":"g","year":1984,"e0":72.5},{"s":"M","id":"Mg2","g":"g","year":1988,"e0":73.2},{"s":"M","id":"Mg2","g":"g","year":1991,"e0":73.7},{"s":"M","id":"Mg2","g":"g","year":1994,"e0":74.2},{"s":"M","id":"Mg2","g":"g","year":1997,"e0":74.9},{"s":"M","id":"Mg2","g":"g","year":2000,"e0":75.6},{"s":"M","id":"Mg2","g":"g","year":2004,"e0":76.8},{"s":"M","id":"Mg2","g":"g","year":2007,"e0":77.7},{"s":"M","id":"Mg2","g":"g","year":2009,"e0":78.3},
{"s":"M","id":"Mg3","g":"g","year":1960,"e0":68.0},{"s":"M","id":"Mg3","g":"g","year":1964,"e0":68.0},{"s":"M","id":"Mg3","g":"g","year":1968,"e0":68.2},{"s":"M","id":"Mg3","g":"g","year":1972,"e0":68.8},{"s":"M","id":"Mg3","g":"g","year":1976,"e0":69.5},{"s":"M","id":"Mg3","g":"g","year":1980,"e0":70.5},{"s":"M","id":"Mg3","g":"g","year":1984,"e0":71.5},{"s":"M","id":"Mg3","g":"g","year":1988,"e0":72.3},{"s":"M","id":"Mg3","g":"g","year":1991,"e0":72.9},{"s":"M","id":"Mg3","g":"g","year":1994,"e0":73.5},{"s":"M","id":"Mg3","g":"g","year":1997,"e0":74.3},{"s":"M","id":"Mg3","g":"g","year":2000,"e0":75.2},{"s":"M","id":"Mg3","g":"g","year":2004,"e0":76.5},{"s":"M","id":"Mg3","g":"g","year":2007,"e0":77.4},{"s":"M","id":"Mg3","g":"g","year":2009,"e0":78.0},
{"s":"M","id":"Mg4","g":"g","year":1960,"e0":67.5},{"s":"M","id":"Mg4","g":"g","year":1964,"e0":67.5},{"s":"M","id":"Mg4","g":"g","year":1968,"e0":67.8},{"s":"M","id":"Mg4","g":"g","year":1972,"e0":68.3},{"s":"M","id":"Mg4","g":"g","year":1976,"e0":69.0},{"s":"M","id":"Mg4","g":"g","year":1980,"e0":70.0},{"s":"M","id":"Mg4","g":"g","year":1984,"e0":71.0},{"s":"M","id":"Mg4","g":"g","year":1988,"e0":71.9},{"s":"M","id":"Mg4","g":"g","year":1991,"e0":72.4},{"s":"M","id":"Mg4","g":"g","year":1994,"e0":73.0},{"s":"M","id":"Mg4","g":"g","year":1997,"e0":73.8},{"s":"M","id":"Mg4","g":"g","year":2000,"e0":74.8},{"s":"M","id":"Mg4","g":"g","year":2004,"e0":76.0},{"s":"M","id":"Mg4","g":"g","year":2007,"e0":77.0},{"s":"M","id":"Mg4","g":"g","year":2009,"e0":77.6},
{"s":"M","id":"Mg5","g":"g","year":1960,"e0":67.0},{"s":"M","id":"Mg5","g":"g","year":1964,"e0":67.2},{"s":"M","id":"Mg5","g":"g","year":1968,"e0":67.4},{"s":"M","id":"Mg5","g":"g","year":1972,"e0":67.8},{"s":"M","id":"Mg5","g":"g","year":1976,"e0":68.5},{"s":"M","id":"Mg5","g":"g","year":1980,"e0":69.4},{"s":"M","id":"Mg5","g":"g","year":1984,"e0":70.3},{"s":"M","id":"Mg5","g":"g","year":1988,"e0":71.2},{"s":"M","id":"Mg5","g":"g","year":1991,"e0":71.7},{"s":"M","id":"Mg5","g":"g","year":1994,"e0":72.3},{"s":"M","id":"Mg5","g":"g","year":1997,"e0":73.2},{"s":"M","id":"Mg5","g":"g","year":2000,"e0":74.3},{"s":"M","id":"Mg5","g":"g","year":2004,"e0":75.6},{"s":"M","id":"Mg5","g":"g","year":2007,"e0":76.7},{"s":"M","id":"Mg5","g":"g","year":2009,"e0":77.3},
{"s":"M","id":"Mg6","g":"g","year":1960,"e0":66.5},{"s":"M","id":"Mg6","g":"g","year":1964,"e0":66.8},{"s":"M","id":"Mg6","g":"g","year":1968,"e0":67.0},{"s":"M","id":"Mg6","g":"g","year":1972,"e0":67.4},{"s":"M","id":"Mg6","g":"g","year":1976,"e0":68.0},{"s":"M","id":"Mg6","g":"g","year":1980,"e0":69.0},{"s":"M","id":"Mg6","g":"g","year":1984,"e0":69.8},{"s":"M","id":"Mg6","g":"g","year":1988,"e0":70.7},{"s":"M","id":"Mg6","g":"g","year":1991,"e0":71.3},{"s":"M","id":"Mg6","g":"g","year":1994,"e0":71.9},{"s":"M","id":"Mg6","g":"g","year":1997,"e0":72.8},{"s":"M","id":"Mg6","g":"g","year":2000,"e0":73.8},{"s":"M","id":"Mg6","g":"g","year":2004,"e0":75.2},{"s":"M","id":"Mg6","g":"g","year":2007,"e0":76.3},{"s":"M","id":"Mg6","g":"g","year":2009,"e0":76.9},
{"s":"M","id":"Mg7","g":"g","year":1960,"e0":66.0},{"s":"M","id":"Mg7","g":"g","year":1964,"e0":66.3},{"s":"M","id":"Mg7","g":"g","year":1968,"e0":66.5},{"s":"M","id":"Mg7","g":"g","year":1972,"e0":66.9},{"s":"M","id":"Mg7","g":"g","year":1976,"e0":67.5},{"s":"M","id":"Mg7","g":"g","year":1980,"e0":68.4},{"s":"M","id":"Mg7","g":"g","year":1984,"e0":69.2},{"s":"M","id":"Mg7","g":"g","year":1988,"e0":70.2},{"s":"M","id":"Mg7","g":"g","year":1991,"e0":70.8},{"s":"M","id":"Mg7","g":"g","year":1994,"e0":71.4},{"s":"M","id":"Mg7","g":"g","year":1997,"e0":72.3},{"s":"M","id":"Mg7","g":"g","year":2000,"e0":73.2},{"s":"M","id":"Mg7","g":"g","year":2004,"e0":74.6},{"s":"M","id":"Mg7","g":"g","year":2007,"e0":75.8},{"s":"M","id":"Mg7","g":"g","year":2009,"e0":76.4},
{"s":"M","id":"Mg8","g":"g","year":1960,"e0":65.5},{"s":"M","id":"Mg8","g":"g","year":1964,"e0":65.8},{"s":"M","id":"Mg8","g":"g","year":1968,"e0":66.2},{"s":"M","id":"Mg8","g":"g","year":1972,"e0":66.6},{"s":"M","id":"Mg8","g":"g","year":1976,"e0":67.2},{"s":"M","id":"Mg8","g":"g","year":1980,"e0":68.0},{"s":"M","id":"Mg8","g":"g","year":1984,"e0":68.7},{"s":"M","id":"Mg8","g":"g","year":1988,"e0":69.6},{"s":"M","id":"Mg8","g":"g","year":1991,"e0":70.2},{"s":"M","id":"Mg8","g":"g","year":1994,"e0":70.8},{"s":"M","id":"Mg8","g":"g","year":1997,"e0":71.6},{"s":"M","id":"Mg8","g":"g","year":2000,"e0":72.5},{"s":"M","id":"Mg8","g":"g","year":2004,"e0":74.0},{"s":"M","id":"Mg8","g":"g","year":2007,"e0":75.3},{"s":"M","id":"Mg8","g":"g","year":2009,"e0":76.0},
{"s":"M","id":"Mr1","g":"r","year":1960,"e0":67.5},{"s":"M","id":"Mr1","g":"r","year":1964,"e0":67.5},{"s":"M","id":"Mr1","g":"r","year":1968,"e0":67.0},{"s":"M","id":"Mr1","g":"r","year":1972,"e0":67.0},{"s":"M","id":"Mr1","g":"r","year":1976,"e0":66.8},{"s":"M","id":"Mr1","g":"r","year":1980,"e0":67.0},{"s":"M","id":"Mr1","g":"r","year":1984,"e0":67.5},{"s":"M","id":"Mr1","g":"r","year":1988,"e0":68.0},{"s":"M","id":"Mr1","g":"r","year":1991,"e0":69.0},{"s":"M","id":"Mr1","g":"r","year":1994,"e0":69.8},{"s":"M","id":"Mr1","g":"r","year":1997,"e0":70.8},{"s":"M","id":"Mr1","g":"r","year":2000,"e0":71.5},{"s":"M","id":"Mr1","g":"r","year":2004,"e0":72.7},{"s":"M","id":"Mr1","g":"r","year":2007,"e0":73.7},{"s":"M","id":"Mr1","g":"r","year":2009,"e0":74.2},
{"s":"M","id":"Mr2","g":"r","year":1960,"e0":68.0},{"s":"M","id":"Mr2","g":"r","year":1964,"e0":68.3},{"s":"M","id":"Mr2","g":"r","year":1968,"e0":68.0},{"s":"M","id":"Mr2","g":"r","year":1972,"e0":67.5},{"s":"M","id":"Mr2","g":"r","year":1976,"e0":67.0},{"s":"M","id":"Mr2","g":"r","year":1980,"e0":66.8},{"s":"M","id":"Mr2","g":"r","year":1984,"e0":67.2},{"s":"M","id":"Mr2","g":"r","year":1988,"e0":67.8},{"s":"M","id":"Mr2","g":"r","year":1991,"e0":68.0},{"s":"M","id":"Mr2","g":"r","year":1994,"e0":67.5},{"s":"M","id":"Mr2","g":"r","year":1997,"e0":68.2},{"s":"M","id":"Mr2","g":"r","year":2000,"e0":68.8},{"s":"M","id":"Mr2","g":"r","year":2004,"e0":69.2},{"s":"M","id":"Mr2","g":"r","year":2007,"e0":70.8},{"s":"M","id":"Mr2","g":"r","year":2009,"e0":71.7},
{"s":"M","id":"Mr3","g":"r","year":1960,"e0":68.5},{"s":"M","id":"Mr3","g":"r","year":1964,"e0":69.0},{"s":"M","id":"Mr3","g":"r","year":1968,"e0":68.5},{"s":"M","id":"Mr3","g":"r","year":1972,"e0":68.0},{"s":"M","id":"Mr3","g":"r","year":1976,"e0":67.5},{"s":"M","id":"Mr3","g":"r","year":1980,"e0":67.3},{"s":"M","id":"Mr3","g":"r","year":1984,"e0":67.5},{"s":"M","id":"Mr3","g":"r","year":1988,"e0":68.0},{"s":"M","id":"Mr3","g":"r","year":1991,"e0":67.8},{"s":"M","id":"Mr3","g":"r","year":1994,"e0":66.5},{"s":"M","id":"Mr3","g":"r","year":1997,"e0":67.0},{"s":"M","id":"Mr3","g":"r","year":2000,"e0":67.8},{"s":"M","id":"Mr3","g":"r","year":2004,"e0":68.8},{"s":"M","id":"Mr3","g":"r","year":2007,"e0":70.3},{"s":"M","id":"Mr3","g":"r","year":2009,"e0":71.5},
{"s":"M","id":"Mr4","g":"r","year":1960,"e0":66.5},{"s":"M","id":"Mr4","g":"r","year":1964,"e0":67.0},{"s":"M","id":"Mr4","g":"r","year":1968,"e0":66.8},{"s":"M","id":"Mr4","g":"r","year":1972,"e0":66.5},{"s":"M","id":"Mr4","g":"r","year":1976,"e0":66.2},{"s":"M","id":"Mr4","g":"r","year":1980,"e0":66.0},{"s":"M","id":"Mr4","g":"r","year":1984,"e0":66.3},{"s":"M","id":"Mr4","g":"r","year":1988,"e0":67.0},{"s":"M","id":"Mr4","g":"r","year":1991,"e0":66.5},{"s":"M","id":"Mr4","g":"r","year":1994,"e0":64.5},{"s":"M","id":"Mr4","g":"r","year":1997,"e0":65.5},{"s":"M","id":"Mr4","g":"r","year":2000,"e0":67.0},{"s":"M","id":"Mr4","g":"r","year":2004,"e0":68.5},{"s":"M","id":"Mr4","g":"r","year":2007,"e0":69.5},{"s":"M","id":"Mr4","g":"r","year":2009,"e0":70.0},
{"s":"M","id":"Mr5","g":"r","year":1960,"e0":67.8},{"s":"M","id":"Mr5","g":"r","year":1964,"e0":67.5},{"s":"M","id":"Mr5","g":"r","year":1968,"e0":67.0},{"s":"M","id":"Mr5","g":"r","year":1972,"e0":66.5},{"s":"M","id":"Mr5","g":"r","year":1976,"e0":66.0},{"s":"M","id":"Mr5","g":"r","year":1980,"e0":65.5},{"s":"M","id":"Mr5","g":"r","year":1984,"e0":65.8},{"s":"M","id":"Mr5","g":"r","year":1988,"e0":67.2},{"s":"M","id":"Mr5","g":"r","year":1991,"e0":65.8},{"s":"M","id":"Mr5","g":"r","year":1994,"e0":62.5},{"s":"M","id":"Mr5","g":"r","year":1997,"e0":64.5},{"s":"M","id":"Mr5","g":"r","year":2000,"e0":65.8},{"s":"M","id":"Mr5","g":"r","year":2004,"e0":66.9},{"s":"M","id":"Mr5","g":"r","year":2007,"e0":68.3},{"s":"M","id":"Mr5","g":"r","year":2009,"e0":69.9},
{"s":"M","id":"Mr6","g":"r","year":1960,"e0":66.0},{"s":"M","id":"Mr6","g":"r","year":1964,"e0":66.5},{"s":"M","id":"Mr6","g":"r","year":1968,"e0":66.5},{"s":"M","id":"Mr6","g":"r","year":1972,"e0":66.2},{"s":"M","id":"Mr6","g":"r","year":1976,"e0":65.8},{"s":"M","id":"Mr6","g":"r","year":1980,"e0":65.3},{"s":"M","id":"Mr6","g":"r","year":1984,"e0":65.5},{"s":"M","id":"Mr6","g":"r","year":1988,"e0":66.5},{"s":"M","id":"Mr6","g":"r","year":1991,"e0":64.5},{"s":"M","id":"Mr6","g":"r","year":1994,"e0":60.8},{"s":"M","id":"Mr6","g":"r","year":1997,"e0":63.5},{"s":"M","id":"Mr6","g":"r","year":2000,"e0":64.5},{"s":"M","id":"Mr6","g":"r","year":2004,"e0":65.9},{"s":"M","id":"Mr6","g":"r","year":2007,"e0":67.0},{"s":"M","id":"Mr6","g":"r","year":2009,"e0":69.0},
{"s":"M","id":"Mr7","g":"r","year":1960,"e0":65.5},{"s":"M","id":"Mr7","g":"r","year":1964,"e0":66.0},{"s":"M","id":"Mr7","g":"r","year":1968,"e0":66.0},{"s":"M","id":"Mr7","g":"r","year":1972,"e0":65.8},{"s":"M","id":"Mr7","g":"r","year":1976,"e0":65.2},{"s":"M","id":"Mr7","g":"r","year":1980,"e0":64.8},{"s":"M","id":"Mr7","g":"r","year":1984,"e0":65.0},{"s":"M","id":"Mr7","g":"r","year":1988,"e0":66.0},{"s":"M","id":"Mr7","g":"r","year":1991,"e0":63.8},{"s":"M","id":"Mr7","g":"r","year":1994,"e0":59.0},{"s":"M","id":"Mr7","g":"r","year":1997,"e0":62.5},{"s":"M","id":"Mr7","g":"r","year":2000,"e0":64.0},{"s":"M","id":"Mr7","g":"r","year":2004,"e0":65.1},{"s":"M","id":"Mr7","g":"r","year":2007,"e0":65.8},{"s":"M","id":"Mr7","g":"r","year":2009,"e0":67.1},
{"s":"M","id":"Mr8","g":"r","year":1960,"e0":64.8},{"s":"M","id":"Mr8","g":"r","year":1964,"e0":65.5},{"s":"M","id":"Mr8","g":"r","year":1968,"e0":65.3},{"s":"M","id":"Mr8","g":"r","year":1972,"e0":65.0},{"s":"M","id":"Mr8","g":"r","year":1976,"e0":64.3},{"s":"M","id":"Mr8","g":"r","year":1980,"e0":63.8},{"s":"M","id":"Mr8","g":"r","year":1984,"e0":64.2},{"s":"M","id":"Mr8","g":"r","year":1988,"e0":65.2},{"s":"M","id":"Mr8","g":"r","year":1991,"e0":64.5},{"s":"M","id":"Mr8","g":"r","year":1994,"e0":63.5},{"s":"M","id":"Mr8","g":"r","year":1997,"e0":63.0},{"s":"M","id":"Mr8","g":"r","year":2000,"e0":62.5},{"s":"M","id":"Mr8","g":"r","year":2004,"e0":63.1},{"s":"M","id":"Mr8","g":"r","year":2007,"e0":64.8},{"s":"M","id":"Mr8","g":"r","year":2009,"e0":64.9},
{"s":"M","id":"Mr9","g":"r","year":1960,"e0":67.0},{"s":"M","id":"Mr9","g":"r","year":1964,"e0":67.8},{"s":"M","id":"Mr9","g":"r","year":1968,"e0":67.5},{"s":"M","id":"Mr9","g":"r","year":1972,"e0":67.0},{"s":"M","id":"Mr9","g":"r","year":1976,"e0":66.5},{"s":"M","id":"Mr9","g":"r","year":1980,"e0":66.0},{"s":"M","id":"Mr9","g":"r","year":1984,"e0":66.3},{"s":"M","id":"Mr9","g":"r","year":1988,"e0":67.5},{"s":"M","id":"Mr9","g":"r","year":1991,"e0":66.8},{"s":"M","id":"Mr9","g":"r","year":1994,"e0":65.5},{"s":"M","id":"Mr9","g":"r","year":1997,"e0":66.0},{"s":"M","id":"Mr9","g":"r","year":2000,"e0":66.5},{"s":"M","id":"Mr9","g":"r","year":2004,"e0":67.5},{"s":"M","id":"Mr9","g":"r","year":2007,"e0":68.5},{"s":"M","id":"Mr9","g":"r","year":2009,"e0":69.5}
],
"fc1": [
{"s":"F","id":"Fb1","g":"b","year":2005,"e0":85.8},{"s":"F","id":"Fb1","g":"b","year":2014,"e0":88.6},
{"s":"F","id":"Fb2","g":"b","year":2005,"e0":83.6},{"s":"F","id":"Fb2","g":"b","year":2014,"e0":86.3},
{"s":"F","id":"Fb3","g":"b","year":2005,"e0":83.2},{"s":"F","id":"Fb3","g":"b","year":2014,"e0":85.8},
{"s":"F","id":"Fb4","g":"b","year":2005,"e0":82.9},{"s":"F","id":"Fb4","g":"b","year":2014,"e0":85.5},
{"s":"F","id":"Fb5","g":"b","year":2005,"e0":82.6},{"s":"F","id":"Fb5","g":"b","year":2014,"e0":84.9},
{"s":"F","id":"Fb6","g":"b","year":2005,"e0":82.3},{"s":"F","id":"Fb6","g":"b","year":2014,"e0":84.6},
{"s":"F","id":"Fb7","g":"b","year":2005,"e0":82.1},{"s":"F","id":"Fb7","g":"b","year":2014,"e0":84.3},
{"s":"F","id":"Fb8","g":"b","year":2005,"e0":81.8},{"s":"F","id":"Fb8","g":"b","year":2014,"e0":84.0},
{"s":"F","id":"Fg1","g":"g","year":2005,"e0":80.8},{"s":"F","id":"Fg1","g":"g","year":2014,"e0":82.8},
{"s":"F","id":"Fg2","g":"g","year":2005,"e0":82.8},{"s":"F","id":"Fg2","g":"g","year":2014,"e0":85.0},
{"s":"F","id":"Fg3","g":"g","year":2005,"e0":82.3},{"s":"F","id":"Fg3","g":"g","year":2014,"e0":84.5},
{"s":"F","id":"Fg4","g":"g","year":2005,"e0":81.9},{"s":"F","id":"Fg4","g":"g","year":2014,"e0":84.0},
{"s":"F","id":"Fg5","g":"g","year":2005,"e0":81.6},{"s":"F","id":"Fg5","g":"g","year":2014,"e0":83.6},
{"s":"F","id":"Fg6","g":"g","year":2005,"e0":81.2},{"s":"F","id":"Fg6","g":"g","year":2014,"e0":83.1},
{"s":"F","id":"Fg7","g":"g","year":2005,"e0":80.6},{"s":"F","id":"Fg7","g":"g","year":2014,"e0":82.4},
{"s":"F","id":"Fg8","g":"g","year":2005,"e0":80.3},{"s":"F","id":"Fg8","g":"g","year":2014,"e0":82.0},
{"s":"F","id":"Fr1","g":"r","year":2005,"e0":79.3},{"s":"F","id":"Fr1","g":"r","year":2014,"e0":81.5},
{"s":"F","id":"Fr2","g":"r","year":2005,"e0":78.7},{"s":"F","id":"Fr2","g":"r","year":2014,"e0":80.8},
{"s":"F","id":"Fr3","g":"r","year":2005,"e0":78.2},{"s":"F","id":"Fr3","g":"r","year":2014,"e0":80.2},
{"s":"F","id":"Fr4","g":"r","year":2005,"e0":77.4},{"s":"F","id":"Fr4","g":"r","year":2014,"e0":79.4},
{"s":"F","id":"Fr5","g":"r","year":2005,"e0":76.9},{"s":"F","id":"Fr5","g":"r","year":2014,"e0":79.0},
{"s":"F","id":"Fr6","g":"r","year":2005,"e0":76.4},{"s":"F","id":"Fr6","g":"r","year":2014,"e0":78.5},
{"s":"F","id":"Fr7","g":"r","year":2005,"e0":75.8},{"s":"F","id":"Fr7","g":"r","year":2014,"e0":77.8},
{"s":"F","id":"Fr8","g":"r","year":2005,"e0":75.4},{"s":"F","id":"Fr8","g":"r","year":2014,"e0":77.2},
{"s":"F","id":"Fr9","g":"r","year":2005,"e0":77.9},{"s":"F","id":"Fr9","g":"r","year":2014,"e0":79.9},
{"s":"M","id":"Mb1","g":"b","year":2005,"e0":79.2},{"s":"M","id":"Mb1","g":"b","year":2014,"e0":81.3},
{"s":"M","id":"Mb2","g":"b","year":2005,"e0":79.0},{"s":"M","id":"Mb2","g":"b","year":2014,"e0":81.0},
{"s":"M","id":"Mb3","g":"b","year":2005,"e0":78.7},{"s":"M","id":"Mb3","g":"b","year":2014,"e0":80.7},
{"s":"M","id":"Mb4","g":"b","year":2005,"e0":78.5},{"s":"M","id":"Mb4","g":"b","year":2014,"e0":80.4},
{"s":"M","id":"Mb5","g":"b","year":2005,"e0":78.2},{"s":"M","id":"Mb5","g":"b","year":2014,"e0":80.0},
{"s":"M","id":"Mb6","g":"b","year":2005,"e0":78.0},{"s":"M","id":"Mb6","g":"b","year":2014,"e0":79.7},
{"s":"M","id":"Mb7","g":"b","year":2005,"e0":77.8},{"s":"M","id":"Mb7","g":"b","year":2014,"e0":79.4},
{"s":"M","id":"Mb8","g":"b","year":2005,"e0":77.6},{"s":"M","id":"Mb8","g":"b","year":2014,"e0":79.0},
{"s":"M","id":"Mg1","g":"g","year":2005,"e0":75.2},{"s":"M","id":"Mg1","g":"g","year":2014,"e0":76.8},
{"s":"M","id":"Mg2","g":"g","year":2005,"e0":77.4},{"s":"M","id":"Mg2","g":"g","year":2014,"e0":79.0},
{"s":"M","id":"Mg3","g":"g","year":2005,"e0":77.1},{"s":"M","id":"Mg3","g":"g","year":2014,"e0":78.8},
{"s":"M","id":"Mg4","g":"g","year":2005,"e0":76.7},{"s":"M","id":"Mg4","g":"g","year":2014,"e0":78.4},
{"s":"M","id":"Mg5","g":"g","year":2005,"e0":76.3},{"s":"M","id":"Mg5","g":"g","year":2014,"e0":78.0},
{"s":"M","id":"Mg6","g":"g","year":2005,"e0":76.0},{"s":"M","id":"Mg6","g":"g","year":2014,"e0":77.6},
{"s":"M","id":"Mg7","g":"g","year":2005,"e0":75.5},{"s":"M","id":"Mg7","g":"g","year":2014,"e0":77.1},
{"s":"M","id":"Mg8","g":"g","year":2005,"e0":75.0},{"s":"M","id":"Mg8","g":"g","year":2014,"e0":76.5},
{"s":"M","id":"Mr1","g":"r","year":2005,"e0":73.2},{"s":"M","id":"Mr1","g":"r","year":2014,"e0":75.0},
{"s":"M","id":"Mr2","g":"r","year":2005,"e0":70.3},{"s":"M","id":"Mr2","g":"r","year":2014,"e0":72.5},
{"s":"M","id":"Mr3","g":"r","year":2005,"e0":69.8},{"s":"M","id":"Mr3","g":"r","year":2014,"e0":71.3},
{"s":"M","id":"Mr4","g":"r","year":2005,"e0":69.2},{"s":"M","id":"Mr4","g":"r","year":2014,"e0":71.0},
{"s":"M","id":"Mr5","g":"r","year":2005,"e0":67.6},{"s":"M","id":"Mr5","g":"r","year":2014,"e0":69.0},
{"s":"M","id":"Mr6","g":"r","year":2005,"e0":66.8},{"s":"M","id":"Mr6","g":"r","year":2014,"e0":68.2},
{"s":"M","id":"Mr7","g":"r","year":2005,"e0":66.1},{"s":"M","id":"Mr7","g":"r","year":2014,"e0":67.8},
{"s":"M","id":"Mr8","g":"r","year":2005,"e0":63.8},{"s":"M","id":"Mr8","g":"r","year":2014,"e0":66.0},
{"s":"M","id":"Mr9","g":"r","year":2005,"e0":68.3},{"s":"M","id":"Mr9","g":"r","year":2014,"e0":70.2}
],
"fc2": [
{"s":"F","id":"Fb1","g":"b","year":2010,"e0":86.7},{"s":"F","id":"Fb1","g":"b","year":2019,"e0":89.0},
{"s":"F","id":"Fb2","g":"b","year":2010,"e0":84.6},{"s":"F","id":"Fb2","g":"b","year":2019,"e0":87.2},
{"s":"F","id":"Fb3","g":"b","year":2010,"e0":84.3},{"s":"F","id":"Fb3","g":"b","year":2019,"e0":86.8},
{"s":"F","id":"Fb4","g":"b","year":2010,"e0":84.0},{"s":"F","id":"Fb4","g":"b","year":2019,"e0":86.4},
{"s":"F","id":"Fb5","g":"b","year":2010,"e0":83.8},{"s":"F","id":"Fb5","g":"b","year":2019,"e0":86.0},
{"s":"F","id":"Fb6","g":"b","year":2010,"e0":83.6},{"s":"F","id":"Fb6","g":"b","year":2019,"e0":85.6},
{"s":"F","id":"Fb7","g":"b","year":2010,"e0":83.4},{"s":"F","id":"Fb7","g":"b","year":2019,"e0":85.3},
{"s":"F","id":"Fb8","g":"b","year":2010,"e0":83.2},{"s":"F","id":"Fb8","g":"b","year":2019,"e0":85.0},
{"s":"F","id":"Fg1","g":"g","year":2010,"e0":82.1},{"s":"F","id":"Fg1","g":"g","year":2019,"e0":83.8},
{"s":"F","id":"Fg2","g":"g","year":2010,"e0":83.8},{"s":"F","id":"Fg2","g":"g","year":2019,"e0":85.8},
{"s":"F","id":"Fg3","g":"g","year":2010,"e0":83.3},{"s":"F","id":"Fg3","g":"g","year":2019,"e0":85.3},
{"s":"F","id":"Fg4","g":"g","year":2010,"e0":83.1},{"s":"F","id":"Fg4","g":"g","year":2019,"e0":85.0},
{"s":"F","id":"Fg5","g":"g","year":2010,"e0":82.9},{"s":"F","id":"Fg5","g":"g","year":2019,"e0":84.6},
{"s":"F","id":"Fg6","g":"g","year":2010,"e0":82.5},{"s":"F","id":"Fg6","g":"g","year":2019,"e0":84.2},
{"s":"F","id":"Fg7","g":"g","year":2010,"e0":81.8},{"s":"F","id":"Fg7","g":"g","year":2019,"e0":83.4},
{"s":"F","id":"Fg8","g":"g","year":2010,"e0":81.3},{"s":"F","id":"Fg8","g":"g","year":2019,"e0":82.8},
{"s":"F","id":"Fr1","g":"r","year":2010,"e0":80.6},{"s":"F","id":"Fr1","g":"r","year":2019,"e0":82.3},
{"s":"F","id":"Fr2","g":"r","year":2010,"e0":80.0},{"s":"F","id":"Fr2","g":"r","year":2019,"e0":81.8},
{"s":"F","id":"Fr3","g":"r","year":2010,"e0":79.4},{"s":"F","id":"Fr3","g":"r","year":2019,"e0":81.2},
{"s":"F","id":"Fr4","g":"r","year":2010,"e0":78.9},{"s":"F","id":"Fr4","g":"r","year":2019,"e0":80.6},
{"s":"F","id":"Fr5","g":"r","year":2010,"e0":78.4},{"s":"F","id":"Fr5","g":"r","year":2019,"e0":80.0},
{"s":"F","id":"Fr6","g":"r","year":2010,"e0":77.9},{"s":"F","id":"Fr6","g":"r","year":2019,"e0":79.5},
{"s":"F","id":"Fr7","g":"r","year":2010,"e0":77.1},{"s":"F","id":"Fr7","g":"r","year":2019,"e0":78.6},
{"s":"F","id":"Fr8","g":"r","year":2010,"e0":76.6},{"s":"F","id":"Fr8","g":"r","year":2019,"e0":78.2},
{"s":"F","id":"Fr9","g":"r","year":2010,"e0":79.1},{"s":"F","id":"Fr9","g":"r","year":2019,"e0":80.8},
{"s":"M","id":"Mb1","g":"b","year":2010,"e0":80.2},{"s":"M","id":"Mb1","g":"b","year":2019,"e0":82.5},
{"s":"M","id":"Mb2","g":"b","year":2010,"e0":80.0},{"s":"M","id":"Mb2","g":"b","year":2019,"e0":82.2},
{"s":"M","id":"Mb3","g":"b","year":2010,"e0":79.8},{"s":"M","id":"Mb3","g":"b","year":2019,"e0":81.9},
{"s":"M","id":"Mb4","g":"b","year":2010,"e0":79.6},{"s":"M","id":"Mb4","g":"b","year":2019,"e0":81.6},
{"s":"M","id":"Mb5","g":"b","year":2010,"e0":79.4},{"s":"M","id":"Mb5","g":"b","year":2019,"e0":81.3},
{"s":"M","id":"Mb6","g":"b","year":2010,"e0":79.3},{"s":"M","id":"Mb6","g":"b","year":2019,"e0":81.0},
{"s":"M","id":"Mb7","g":"b","year":2010,"e0":79.1},{"s":"M","id":"Mb7","g":"b","year":2019,"e0":80.7},
{"s":"M","id":"Mb8","g":"b","year":2010,"e0":78.9},{"s":"M","id":"Mb8","g":"b","year":2019,"e0":80.4},
{"s":"M","id":"Mg1","g":"g","year":2010,"e0":76.5},{"s":"M","id":"Mg1","g":"g","year":2019,"e0":77.8},
{"s":"M","id":"Mg2","g":"g","year":2010,"e0":78.8},{"s":"M","id":"Mg2","g":"g","year":2019,"e0":80.8},
{"s":"M","id":"Mg3","g":"g","year":2010,"e0":78.5},{"s":"M","id":"Mg3","g":"g","year":2019,"e0":80.3},
{"s":"M","id":"Mg4","g":"g","year":2010,"e0":78.1},{"s":"M","id":"Mg4","g":"g","year":2019,"e0":79.8},
{"s":"M","id":"Mg5","g":"g","year":2010,"e0":77.8},{"s":"M","id":"Mg5","g":"g","year":2019,"e0":79.3},
{"s":"M","id":"Mg6","g":"g","year":2010,"e0":77.4},{"s":"M","id":"Mg6","g":"g","year":2019,"e0":78.8},
{"s":"M","id":"Mg7","g":"g","year":2010,"e0":77.0},{"s":"M","id":"Mg7","g":"g","year":2019,"e0":78.2},
{"s":"M","id":"Mg8","g":"g","year":2010,"e0":76.6},{"s":"M","id":"Mg8","g":"g","year":2019,"e0":77.7},
{"s":"M","id":"Mr1","g":"r","year":2010,"e0":74.6},{"s":"M","id":"Mr1","g":"r","year":2019,"e0":76.6},
{"s":"M","id":"Mr2","g":"r","year":2010,"e0":72.0},{"s":"M","id":"Mr2","g":"r","year":2019,"e0":73.8},
{"s":"M","id":"Mr3","g":"r","year":2010,"e0":71.6},{"s":"M","id":"Mr3","g":"r","year":2019,"e0":73.3},
{"s":"M","id":"Mr4","g":"r","year":2010,"e0":70.6},{"s":"M","id":"Mr4","g":"r","year":2019,"e0":72.5},
{"s":"M","id":"Mr5","g":"r","year":2010,"e0":70.4},{"s":"M","id":"Mr5","g":"r","year":2019,"e0":72.0},
{"s":"M","id":"Mr6","g":"r","year":2010,"e0":68.4},{"s":"M","id":"Mr6","g":"r","year":2019,"e0":69.9},
{"s":"M","id":"Mr7","g":"r","year":2010,"e0":67.8},{"s":"M","id":"Mr7","g":"r","year":2019,"e0":69.1},
{"s":"M","id":"Mr8","g":"r","year":2010,"e0":65.4},{"s":"M","id":"Mr8","g":"r","year":2019,"e0":67.5},
{"s":"M","id":"Mr9","g":"r","year":2010,"e0":70.1},{"s":"M","id":"Mr9","g":"r","year":2019,"e0":71.5}
]
},
"concat": [
{"width": 252, "height": 204, "title": {"text": "Females"},
 "encoding": {
  "x": {"field": "year", "type": "quantitative", "scale": {"domain": [1957.6, 2022.4], "nice": false, "zero": false}, "axis": {"title": "year", "values": [1960,1970,1980,1990,2000,2010,2020], "format": "d", "labelExpr": "datum.value % 20 == 0 ? datum.label : ''"}},
  "y": {"field": "e0", "type": "quantitative", "scale": {"domain": [53.4, 96.6], "nice": false, "zero": false}, "axis": {"title": "e0", "values": [60,70,80,90]}},
  "color": {"field": "g", "type": "nominal", "scale": {"domain": ["r","g","b"], "range": ["#DF536B","#61D04F","#2297E6"]}, "legend": null},
  "detail": {"field": "id"}},
 "layer": [
  {"data": {"name": "hist"}, "transform": [{"filter": "datum.s == 'F' && datum.year <= 2004"}], "mark": {"type": "line", "strokeWidth": 1, "opacity": 0.85}},
  {"data": {"name": "fc1"}, "transform": [{"filter": "datum.s == 'F'"}], "mark": {"type": "line", "strokeWidth": 1.2, "strokeDash": [1.5, 2], "opacity": 0.9}}
 ]},
{"width": 252, "height": 204, "title": {"text": "Males"},
 "encoding": {
  "x": {"field": "year", "type": "quantitative", "scale": {"domain": [1957.6, 2022.4], "nice": false, "zero": false}, "axis": {"title": "year", "values": [1960,1970,1980,1990,2000,2010,2020], "format": "d", "labelExpr": "datum.value % 20 == 0 ? datum.label : ''"}},
  "y": {"field": "e0", "type": "quantitative", "scale": {"domain": [53.4, 96.6], "nice": false, "zero": false}, "axis": {"title": "e0", "values": [60,70,80,90]}},
  "color": {"field": "g", "type": "nominal", "scale": {"domain": ["r","g","b"], "range": ["#DF536B","#61D04F","#2297E6"]}, "legend": null},
  "detail": {"field": "id"}},
 "layer": [
  {"data": {"name": "hist"}, "transform": [{"filter": "datum.s == 'M' && datum.year <= 2004"}], "mark": {"type": "line", "strokeWidth": 1, "opacity": 0.85}},
  {"data": {"name": "fc1"}, "transform": [{"filter": "datum.s == 'M'"}], "mark": {"type": "line", "strokeWidth": 1.2, "strokeDash": [1.5, 2], "opacity": 0.9}}
 ]},
{"width": 252, "height": 204, "title": {"text": "Females"},
 "encoding": {
  "x": {"field": "year", "type": "quantitative", "scale": {"domain": [1957.6, 2022.4], "nice": false, "zero": false}, "axis": {"title": "year", "values": [1960,1970,1980,1990,2000,2010,2020], "format": "d", "labelExpr": "datum.value % 20 == 0 ? datum.label : ''"}},
  "y": {"field": "e0", "type": "quantitative", "scale": {"domain": [53.4, 96.6], "nice": false, "zero": false}, "axis": {"title": "e0", "values": [60,70,80,90]}},
  "color": {"field": "g", "type": "nominal", "scale": {"domain": ["r","g","b"], "range": ["#DF536B","#61D04F","#2297E6"]}, "legend": null},
  "detail": {"field": "id"}},
 "layer": [
  {"data": {"name": "hist"}, "transform": [{"filter": "datum.s == 'F' && datum.year <= 2009"}], "mark": {"type": "line", "strokeWidth": 1, "opacity": 0.85}},
  {"data": {"name": "fc2"}, "transform": [{"filter": "datum.s == 'F'"}], "mark": {"type": "line", "strokeWidth": 1.2, "strokeDash": [1.5, 2], "opacity": 0.9}}
 ]},
{"width": 252, "height": 204, "title": {"text": "Males"},
 "encoding": {
  "x": {"field": "year", "type": "quantitative", "scale": {"domain": [1957.6, 2022.4], "nice": false, "zero": false}, "axis": {"title": "year", "values": [1960,1970,1980,1990,2000,2010,2020], "format": "d", "labelExpr": "datum.value % 20 == 0 ? datum.label : ''"}},
  "y": {"field": "e0", "type": "quantitative", "scale": {"domain": [53.4, 96.6], "nice": false, "zero": false}, "axis": {"title": "e0", "values": [60,70,80,90]}},
  "color": {"field": "g", "type": "nominal", "scale": {"domain": ["r","g","b"], "range": ["#DF536B","#61D04F","#2297E6"]}, "legend": null},
  "detail": {"field": "id"}},
 "layer": [
  {"data": {"name": "hist"}, "transform": [{"filter": "datum.s == 'M' && datum.year <= 2009"}], "mark": {"type": "line", "strokeWidth": 1, "opacity": 0.85}},
  {"data": {"name": "fc2"}, "transform": [{"filter": "datum.s == 'M'"}], "mark": {"type": "line", "strokeWidth": 1.2, "strokeDash": [1.5, 2], "opacity": 0.9}}
 ]}
]
}
